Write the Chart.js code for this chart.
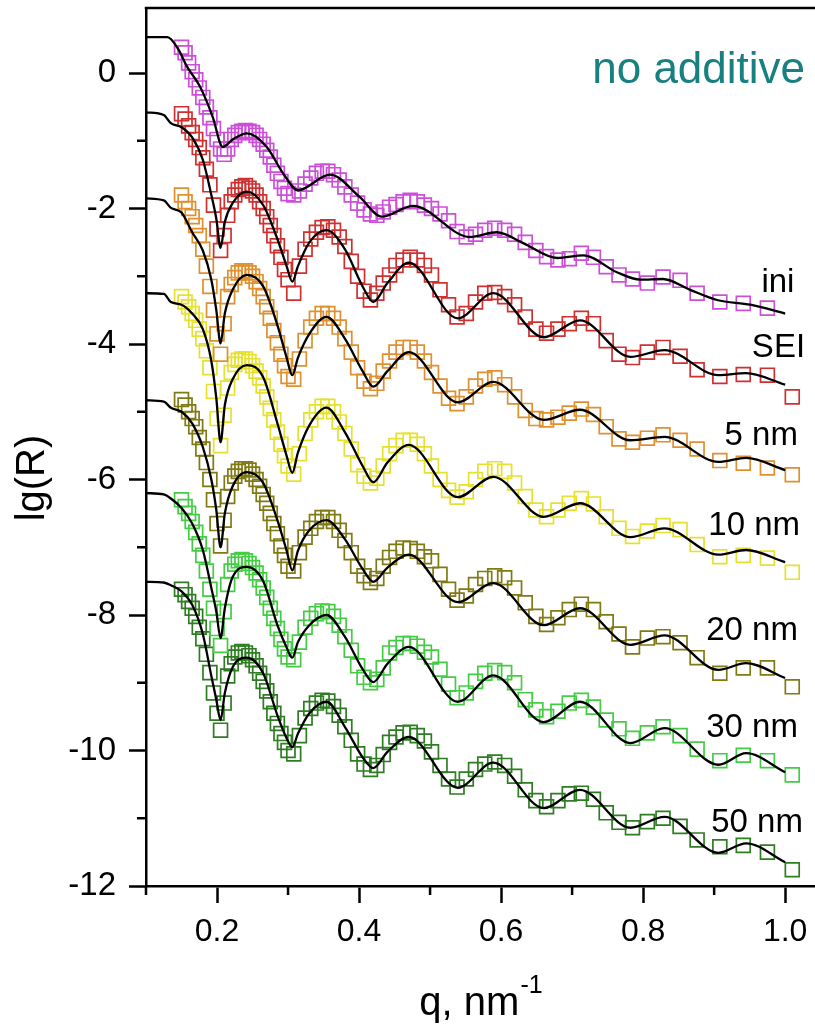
<!DOCTYPE html>
<html>
<head>
<meta charset="utf-8">
<title>Reflectivity curves</title>
<script src="https://cdn.jsdelivr.net/npm/chart.js@4.4.1/dist/chart.umd.min.js"></script>
<style>
  body { margin: 0; background: #ffffff; }
  #chartBox { position: relative; width: 815px; height: 1024px; }
</style>
</head>
<body>
<div id="chartBox"><canvas id="reflChart"></canvas></div>
<script>
// measured q points (nm^-1), same grid for every run
const scanQ = [
    0.150, 0.155, 0.160, 0.165, 0.170, 0.175, 0.180, 0.185, 0.190, 0.195, 0.200, 0.205, 0.210, 0.215, 0.220, 0.225,
    0.230, 0.235, 0.240, 0.245, 0.250, 0.255, 0.260, 0.265, 0.270, 0.275, 0.280, 0.285, 0.290, 0.295, 0.300,
    0.308, 0.316, 0.324, 0.332, 0.340, 0.348, 0.356, 0.364, 0.372, 0.380, 0.389, 0.398, 0.407, 0.416, 0.425,
    0.434, 0.443, 0.452, 0.462, 0.472, 0.482, 0.492, 0.502,
    0.514, 0.526, 0.538, 0.551, 0.564, 0.577, 0.591, 0.605, 0.619, 0.634, 0.649, 0.664, 0.680, 0.696, 0.713, 0.730, 0.748,
    0.766, 0.785, 0.806, 0.828, 0.852, 0.876, 0.908, 0.941, 0.975, 1.010
];

// lg(R) measured, one list per sample (curves already shifted down)
const iniR = [
    0.38, 0.30, 0.15, 0.02, -0.10, -0.22, -0.36, -0.50, -0.66, -0.82, -0.98, -1.12, -1.20, -1.12, -0.98, -0.92,
    -0.88, -0.86, -0.85, -0.86, -0.88, -0.92, -0.98, -1.05, -1.14, -1.24, -1.36, -1.48, -1.60, -1.70, -1.78,
    -1.80, -1.74, -1.64, -1.55, -1.48, -1.45, -1.45, -1.50, -1.58, -1.68, -1.80, -1.92, -2.02, -2.08, -2.10,
    -2.05, -1.98, -1.94, -1.90, -1.88, -1.90, -1.95, -2.00,
    -2.08, -2.18, -2.34, -2.42, -2.38, -2.32, -2.29, -2.32, -2.38, -2.50, -2.62, -2.71, -2.76, -2.74, -2.66, -2.72, -2.86,
    -2.98, -3.04, -3.10, -3.01, -3.06, -3.25, -3.38, -3.40, -3.47
];
const seiR = [
    -0.60, -0.68, -0.78, -0.88, -0.98, -1.10, -1.25, -1.42, -1.65, -1.95, -2.30, -2.62, -2.40, -2.10, -1.90, -1.80,
    -1.72, -1.68, -1.66, -1.70, -1.74, -1.80, -1.90, -2.00, -2.12, -2.25, -2.40, -2.55, -2.72, -2.90, -3.05,
    -3.25, -2.85, -2.60, -2.45, -2.35, -2.28, -2.27, -2.32, -2.42, -2.56, -2.78, -3.00, -3.22, -3.35, -3.25,
    -3.10, -2.98, -2.84, -2.76, -2.72, -2.76, -2.84, -2.98,
    -3.20, -3.42, -3.60, -3.55, -3.38, -3.25, -3.24, -3.30, -3.42, -3.60, -3.78, -3.84, -3.78, -3.70, -3.62, -3.70, -3.95,
    -4.15, -4.20, -4.12, -4.05, -4.18, -4.38, -4.48, -4.45, -4.46, -4.78
];
const nm5R = [
    -1.80, -1.90, -2.00, -2.12, -2.25, -2.40, -2.60, -2.85, -3.15, -3.50, -3.85, -4.15, -3.70, -3.30, -3.12, -3.02,
    -2.95, -2.92, -2.92, -2.95, -3.00, -3.08, -3.18, -3.30, -3.45, -3.62, -3.80, -3.98, -4.15, -4.32, -4.48,
    -4.52, -4.22, -3.95, -3.75, -3.62, -3.55, -3.55, -3.62, -3.75, -3.92, -4.12, -4.35, -4.55, -4.66, -4.58,
    -4.40, -4.25, -4.12, -4.05, -4.05, -4.12, -4.25, -4.42,
    -4.62, -4.80, -4.88, -4.78, -4.62, -4.52, -4.50, -4.60, -4.78, -4.98, -5.10, -5.12, -5.08, -5.02, -4.96, -5.04, -5.22,
    -5.40, -5.45, -5.39, -5.34, -5.42, -5.55, -5.72, -5.76, -5.83, -5.93
];
const nm10R = [
    -3.30, -3.38, -3.45, -3.55, -3.65, -3.78, -3.92, -4.10, -4.35, -4.70, -5.10, -5.50, -5.05, -4.65, -4.42, -4.30,
    -4.24, -4.22, -4.22, -4.26, -4.32, -4.40, -4.50, -4.62, -4.78, -4.95, -5.12, -5.30, -5.48, -5.65, -5.80,
    -5.92, -5.62, -5.32, -5.12, -5.00, -4.92, -4.92, -5.00, -5.15, -5.32, -5.55, -5.78, -5.95, -6.05, -5.98,
    -5.80, -5.62, -5.50, -5.42, -5.42, -5.48, -5.62, -5.80,
    -6.00, -6.16, -6.26, -6.18, -6.00, -5.88, -5.84, -5.88, -6.05, -6.25, -6.45, -6.55, -6.45, -6.35, -6.28, -6.36, -6.55,
    -6.72, -6.84, -6.76, -6.68, -6.74, -6.96, -7.14, -7.12, -7.16, -7.37
];
const nm20R = [
    -4.82, -4.90, -5.00, -5.10, -5.22, -5.38, -5.55, -5.75, -6.00, -6.30, -6.65, -6.98, -6.60, -6.25, -6.05, -5.95,
    -5.88, -5.84, -5.84, -5.86, -5.92, -6.00, -6.10, -6.22, -6.35, -6.50, -6.65, -6.80, -6.98, -7.12, -7.28,
    -7.35, -7.08, -6.85, -6.72, -6.62, -6.56, -6.56, -6.62, -6.75, -6.90, -7.08, -7.28, -7.42, -7.52, -7.46,
    -7.28, -7.15, -7.06, -7.01, -7.02, -7.06, -7.14, -7.20,
    -7.40, -7.62, -7.78, -7.72, -7.55, -7.46, -7.42, -7.45, -7.60, -7.82, -8.02, -8.14, -8.04, -7.92, -7.84, -7.92, -8.10,
    -8.28, -8.47, -8.34, -8.32, -8.41, -8.63, -8.86, -8.78, -8.78, -9.06
];
const nm30R = [
    -6.30, -6.40, -6.50, -6.62, -6.78, -6.95, -7.12, -7.35, -7.62, -7.90, -8.20, -8.45, -7.95, -7.55, -7.35, -7.25,
    -7.20, -7.18, -7.20, -7.24, -7.30, -7.38, -7.48, -7.60, -7.74, -7.90, -8.05, -8.20, -8.36, -8.50, -8.62,
    -8.66, -8.40, -8.18, -8.05, -7.98, -7.94, -7.95, -8.02, -8.15, -8.32, -8.52, -8.75, -8.92, -9.00, -8.95,
    -8.78, -8.56, -8.48, -8.42, -8.42, -8.46, -8.55, -8.62,
    -8.80, -9.02, -9.22, -9.15, -8.98, -8.86, -8.82, -8.85, -9.00, -9.25, -9.40, -9.50, -9.42, -9.30, -9.26, -9.36, -9.55,
    -9.68, -9.82, -9.74, -9.65, -9.78, -9.98, -10.15, -10.07, -10.15, -10.36
];
const nm50R = [
    -7.62, -7.70, -7.80, -7.90, -8.02, -8.18, -8.35, -8.58, -8.85, -9.15, -9.45, -9.70, -9.30, -8.90, -8.72, -8.62,
    -8.56, -8.54, -8.56, -8.60, -8.66, -8.75, -8.86, -8.98, -9.12, -9.28, -9.45, -9.60, -9.75, -9.88, -10.00,
    -10.05, -9.78, -9.52, -9.38, -9.30, -9.26, -9.27, -9.35, -9.48, -9.65, -9.85, -10.05, -10.20, -10.28, -10.22,
    -10.06, -9.88, -9.80, -9.74, -9.73, -9.78, -9.86, -10.02,
    -10.22, -10.42, -10.54, -10.42, -10.28, -10.20, -10.17, -10.22, -10.38, -10.58, -10.74, -10.83, -10.74, -10.64, -10.63, -10.72, -10.92,
    -11.06, -11.14, -11.05, -11.00, -11.12, -11.32, -11.42, -11.40, -11.50, -11.76
];

// model curves (fit), ini has its own q points
const iniFitQ = [0.100, 0.130, 0.145, 0.158, 0.176, 0.194, 0.208, 0.222, 0.242, 0.270, 0.293, 0.314, 0.359, 0.401,
    0.432, 0.476, 0.556, 0.594, 0.631, 0.679, 0.716, 0.763, 0.796, 0.828, 0.866, 0.904, 0.951, 1.000];
const iniFit = [0.53, 0.53, 0.36, 0.09, -0.20, -0.65, -1.09, -0.98, -0.89, -1.09, -1.48, -1.73, -1.50, -1.83,
    -2.12, -1.96, -2.42, -2.35, -2.51, -2.73, -2.69, -2.94, -3.05, -3.04, -3.20, -3.35, -3.42, -3.55];

const fitQ = [0.100, 0.125, 0.135, 0.150, 0.165, 0.180, 0.192, 0.199, 0.205, 0.211, 0.222, 0.242, 0.265, 0.285,
    0.298, 0.306, 0.314, 0.330, 0.354, 0.380, 0.405, 0.420, 0.440, 0.470, 0.539, 0.589, 0.660, 0.711, 0.782,
    0.830, 0.906, 0.945, 1.000];
const seiFit = [-0.58, -0.62, -0.74, -0.80, -0.95, -1.28, -1.80, -2.15, -2.58, -2.20, -1.92, -1.75, -1.95, -2.45,
    -2.85, -3.08, -2.85, -2.50, -2.32, -2.60, -3.15, -3.38, -3.10, -2.80, -3.62, -3.25, -3.90, -3.65, -4.19,
    -4.09, -4.46, -4.43, -4.60];
const nm5Fit = [-1.85, -1.88, -1.99, -2.06, -2.35, -2.62, -3.05, -3.50, -3.99, -3.55, -3.20, -2.98, -3.15, -3.72,
    -4.20, -4.46, -4.20, -3.85, -3.60, -3.92, -4.40, -4.63, -4.40, -4.12, -4.86, -4.56, -5.12, -4.97, -5.42,
    -5.37, -5.74, -5.68, -5.86];
const nm10Fit = [-3.25, -3.26, -3.38, -3.42, -3.55, -3.78, -4.25, -4.80, -5.45, -4.90, -4.52, -4.31, -4.49, -5.17,
    -5.65, -5.90, -5.60, -5.20, -4.94, -5.30, -5.80, -6.04, -5.75, -5.49, -6.26, -5.96, -6.55, -6.35, -6.85,
    -6.72, -7.11, -7.04, -7.22];
const nm20Fit = [-4.83, -4.85, -4.94, -5.00, -5.17, -5.52, -6.00, -6.45, -7.00, -6.50, -6.10, -5.89, -6.05, -6.60,
    -7.05, -7.34, -7.05, -6.75, -6.60, -6.88, -7.32, -7.51, -7.30, -7.11, -7.81, -7.53, -8.15, -7.90, -8.44,
    -8.30, -8.81, -8.71, -8.93];
const nm30Fit = [-6.20, -6.22, -6.28, -6.42, -6.65, -7.04, -7.60, -7.95, -8.34, -7.90, -7.44, -7.29, -7.50, -8.15,
    -8.48, -8.63, -8.40, -8.15, -8.00, -8.32, -8.80, -8.99, -8.72, -8.47, -9.28, -8.89, -9.58, -9.28, -9.89,
    -9.67, -10.21, -10.04, -10.32];
const nm50Fit = [-7.51, -7.52, -7.56, -7.65, -7.85, -8.28, -8.90, -9.25, -9.55, -9.15, -8.77, -8.63, -8.86, -9.48,
    -9.82, -9.95, -9.75, -9.45, -9.28, -9.65, -10.10, -10.26, -10.02, -9.80, -10.55, -10.18, -10.85, -10.58, -11.14,
    -10.98, -11.51, -11.37, -11.65];

// sample names, marker colours and where the name is written (right end q, baseline lg(R))
const runNames = ['ini', 'SEI', '5 nm', '10 nm', '20 nm', '30 nm', '50 nm'];
const runColors = ['#cc4fd8', '#cf3030', '#e0902e', '#e6e12e', '#807a14', '#44cc44', '#2e7d23'];
const labelQ = [1.013, 1.028, 1.018, 1.021, 1.018, 1.018, 1.025];
const labelR = [-3.23, -4.19, -5.49, -6.82, -8.37, -9.80, -11.20];

const runData = [iniR, seiR, nm5R, nm10R, nm20R, nm30R, nm50R];
const fitData = [iniFit, seiFit, nm5Fit, nm10Fit, nm20Fit, nm30Fit, nm50Fit];
const fitQs = [iniFitQ, fitQ, fitQ, fitQ, fitQ, fitQ, fitQ];

const fontFamily = "'Liberation Sans', Arial, sans-serif";

const toPoints = (qs, vals) => vals.map((v, i) => ({ x: qs[i], y: v }));

const isMajorX = (v) => Math.round(v * 10) % 2 === 0;
const isMajorY = (v) => Math.round(v) % 2 === 0;

// fit lines first so they end up on top of the squares
let datasets = [];
fitData.forEach((vals, i) => {
    datasets.push({
        label: runNames[i] + ' fit',
        data: toPoints(fitQs[i], vals),
        showLine: true,
        borderColor: '#000000',
        borderWidth: 2.3,
        pointRadius: 0,
        cubicInterpolationMode: 'monotone',
        order: 0
    });
});
runData.forEach((vals, i) => {
    datasets.push({
        label: runNames[i],
        data: toPoints(scanQ, vals),
        showLine: false,
        pointStyle: 'rect',
        pointRadius: 9.8,
        pointBorderWidth: 1.7,
        pointBorderColor: runColors[i],
        pointBackgroundColor: 'rgba(255,255,255,0)',
        order: 1
    });
});

// short minor ticks, top frame line, sample names and axis titles
const decorPlugin = {
    id: 'decor',
    afterDraw: (chart) => {
        const ctx = chart.ctx;
        const area = chart.chartArea;
        const xs = chart.scales.x;
        const ys = chart.scales.y;
        ctx.save();
        ctx.strokeStyle = '#000';
        ctx.lineWidth = 2.5;

        // top frame
        ctx.beginPath();
        ctx.moveTo(area.left - 1.25, area.top);
        ctx.lineTo(chart.width, area.top);
        ctx.stroke();

        // minor ticks
        ctx.beginPath();
        xs.ticks.forEach(t => {
            if (!isMajorX(t.value)) {
                const px = xs.getPixelForValue(t.value);
                ctx.moveTo(px, area.bottom);
                ctx.lineTo(px, area.bottom + 9);
            }
        });
        ys.ticks.forEach(t => {
            if (!isMajorY(t.value)) {
                const py = ys.getPixelForValue(t.value);
                ctx.moveTo(area.left, py);
                ctx.lineTo(area.left - 9, py);
            }
        });
        ctx.stroke();

        // sample names
        ctx.fillStyle = '#000';
        ctx.font = '33px ' + fontFamily;
        ctx.textAlign = 'right';
        ctx.textBaseline = 'alphabetic';
        runNames.forEach((name, i) => {
            ctx.fillText(name, xs.getPixelForValue(labelQ[i]), ys.getPixelForValue(labelR[i]));
        });

        ctx.fillStyle = '#188080';
        ctx.font = '44px ' + fontFamily;
        ctx.fillText('no additive', xs.getPixelForValue(1.028), ys.getPixelForValue(-0.15));

        // y title
        ctx.fillStyle = '#000';
        ctx.font = '40px ' + fontFamily;
        ctx.save();
        ctx.translate(33, 478);
        ctx.rotate(-Math.PI / 2);
        ctx.textAlign = 'center';
        ctx.textBaseline = 'middle';
        ctx.fillText('lg(R)', 0, 0);
        ctx.restore();

        // x title with superscript
        ctx.textAlign = 'left';
        ctx.font = '40px ' + fontFamily;
        const w1 = ctx.measureText('q, nm').width;
        ctx.font = '25px ' + fontFamily;
        const w2 = ctx.measureText('-1').width;
        const startX = (area.left + area.right) / 2 - (w1 + w2) / 2;
        ctx.font = '40px ' + fontFamily;
        ctx.fillText('q, nm', startX, 1015);
        ctx.font = '25px ' + fontFamily;
        ctx.fillText('-1', startX + w1 + 1, 993);
        ctx.restore();
    }
};

new Chart(document.getElementById('reflChart'), {
    type: 'scatter',
    data: { datasets: datasets },
    options: {
        responsive: true,
        maintainAspectRatio: false,
        animation: false,
        layout: { autoPadding: false, padding: { top: 8, right: 0, bottom: 0, left: 0 } },
        plugins: {
            legend: { display: false },
            tooltip: { enabled: false }
        },
        scales: {
            x: {
                type: 'linear',
                min: 0.1,
                max: 1.042,
                afterFit: (scale) => {
                    scale.height = 138;
                    scale.paddingLeft = 0;
                    scale.paddingRight = 0;
                },
                border: { display: true, color: '#000', width: 2.5 },
                grid: {
                    drawOnChartArea: false,
                    drawTicks: true,
                    tickLength: 17,
                    tickWidth: 2.5,
                    tickColor: (c) => isMajorX(c.tick.value) ? '#000' : 'rgba(0,0,0,0)'
                },
                ticks: {
                    stepSize: 0.1,
                    includeBounds: false,
                    autoSkip: false,
                    maxRotation: 0,
                    padding: 10,
                    color: '#000',
                    font: { family: fontFamily, size: 32 },
                    callback: (v) => isMajorX(v) ? v.toFixed(1) : ''
                }
            },
            y: {
                type: 'linear',
                min: -12,
                max: 0.96,
                afterFit: (scale) => {
                    scale.width = 146;
                    scale.paddingTop = 0;
                    scale.paddingBottom = 0;
                },
                border: { display: true, color: '#000', width: 2.5 },
                grid: {
                    drawOnChartArea: false,
                    drawTicks: true,
                    tickLength: 17,
                    tickWidth: 2.5,
                    tickColor: (c) => isMajorY(c.tick.value) ? '#000' : 'rgba(0,0,0,0)'
                },
                ticks: {
                    stepSize: 1,
                    includeBounds: false,
                    autoSkip: false,
                    padding: 13,
                    color: '#000',
                    font: { family: fontFamily, size: 33 },
                    callback: (v) => isMajorY(v) ? String(Math.round(v)) : ''
                }
            }
        }
    },
    plugins: [decorPlugin]
});
</script>
</body>
</html>
